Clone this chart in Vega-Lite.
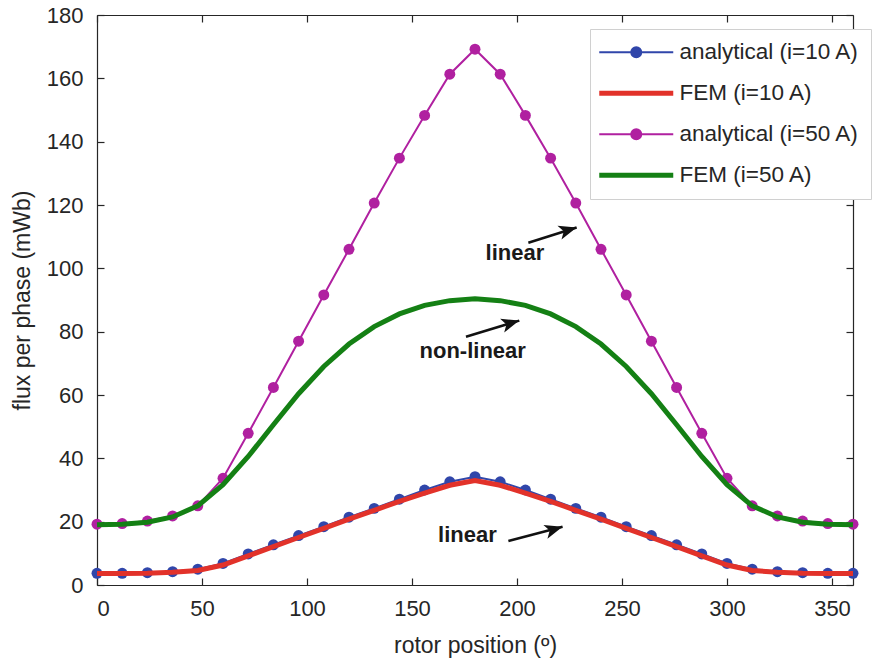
{
  "$schema": "https://vega.github.io/schema/vega-lite/v6.json",
  "width": 756,
  "height": 570,
  "autosize": {"type": "none"},
  "padding": {"left": 97, "top": 15, "right": 24, "bottom": 74},
  "background": "white",
  "config": {
    "view": {"stroke": null},
    "font": "Liberation Sans",
    "axis": {
      "labelFont": "Liberation Sans",
      "labelFontSize": 22,
      "labelColor": "#262626",
      "titleFont": "Liberation Sans",
      "titleFontSize": 23,
      "titleFontWeight": "normal",
      "titleColor": "#262626",
      "domainColor": "#262626",
      "domainWidth": 1.2,
      "tickColor": "#262626",
      "tickWidth": 1.2,
      "grid": false
    }
  },
  "resolve": {"axis": {"x": "independent", "y": "independent"}},
  "datasets": {
    "flux": [
      {"pos": 0, "flux": 3.7, "series": "analytical (i=10 A)"},
      {"pos": 12, "flux": 3.7, "series": "analytical (i=10 A)"},
      {"pos": 24, "flux": 3.9, "series": "analytical (i=10 A)"},
      {"pos": 36, "flux": 4.2, "series": "analytical (i=10 A)"},
      {"pos": 48, "flux": 5.0, "series": "analytical (i=10 A)"},
      {"pos": 60, "flux": 6.8, "series": "analytical (i=10 A)"},
      {"pos": 72, "flux": 9.8, "series": "analytical (i=10 A)"},
      {"pos": 84, "flux": 12.7, "series": "analytical (i=10 A)"},
      {"pos": 96, "flux": 15.6, "series": "analytical (i=10 A)"},
      {"pos": 108, "flux": 18.4, "series": "analytical (i=10 A)"},
      {"pos": 120, "flux": 21.4, "series": "analytical (i=10 A)"},
      {"pos": 132, "flux": 24.2, "series": "analytical (i=10 A)"},
      {"pos": 144, "flux": 27.1, "series": "analytical (i=10 A)"},
      {"pos": 156, "flux": 30.0, "series": "analytical (i=10 A)"},
      {"pos": 168, "flux": 32.6, "series": "analytical (i=10 A)"},
      {"pos": 180, "flux": 34.2, "series": "analytical (i=10 A)"},
      {"pos": 192, "flux": 32.6, "series": "analytical (i=10 A)"},
      {"pos": 204, "flux": 30.0, "series": "analytical (i=10 A)"},
      {"pos": 216, "flux": 27.1, "series": "analytical (i=10 A)"},
      {"pos": 228, "flux": 24.2, "series": "analytical (i=10 A)"},
      {"pos": 240, "flux": 21.4, "series": "analytical (i=10 A)"},
      {"pos": 252, "flux": 18.4, "series": "analytical (i=10 A)"},
      {"pos": 264, "flux": 15.6, "series": "analytical (i=10 A)"},
      {"pos": 276, "flux": 12.7, "series": "analytical (i=10 A)"},
      {"pos": 288, "flux": 9.8, "series": "analytical (i=10 A)"},
      {"pos": 300, "flux": 6.8, "series": "analytical (i=10 A)"},
      {"pos": 312, "flux": 5.0, "series": "analytical (i=10 A)"},
      {"pos": 324, "flux": 4.2, "series": "analytical (i=10 A)"},
      {"pos": 336, "flux": 3.9, "series": "analytical (i=10 A)"},
      {"pos": 348, "flux": 3.7, "series": "analytical (i=10 A)"},
      {"pos": 360, "flux": 3.7, "series": "analytical (i=10 A)"},

      {"pos": 0, "flux": 3.6, "series": "FEM (i=10 A)"},
      {"pos": 12, "flux": 3.6, "series": "FEM (i=10 A)"},
      {"pos": 24, "flux": 3.7, "series": "FEM (i=10 A)"},
      {"pos": 36, "flux": 4.0, "series": "FEM (i=10 A)"},
      {"pos": 48, "flux": 4.6, "series": "FEM (i=10 A)"},
      {"pos": 60, "flux": 6.3, "series": "FEM (i=10 A)"},
      {"pos": 72, "flux": 9.2, "series": "FEM (i=10 A)"},
      {"pos": 84, "flux": 12.1, "series": "FEM (i=10 A)"},
      {"pos": 96, "flux": 15.0, "series": "FEM (i=10 A)"},
      {"pos": 108, "flux": 17.9, "series": "FEM (i=10 A)"},
      {"pos": 120, "flux": 20.8, "series": "FEM (i=10 A)"},
      {"pos": 132, "flux": 23.6, "series": "FEM (i=10 A)"},
      {"pos": 144, "flux": 26.4, "series": "FEM (i=10 A)"},
      {"pos": 156, "flux": 29.0, "series": "FEM (i=10 A)"},
      {"pos": 168, "flux": 31.5, "series": "FEM (i=10 A)"},
      {"pos": 180, "flux": 33.0, "series": "FEM (i=10 A)"},
      {"pos": 192, "flux": 31.5, "series": "FEM (i=10 A)"},
      {"pos": 204, "flux": 29.0, "series": "FEM (i=10 A)"},
      {"pos": 216, "flux": 26.4, "series": "FEM (i=10 A)"},
      {"pos": 228, "flux": 23.6, "series": "FEM (i=10 A)"},
      {"pos": 240, "flux": 20.8, "series": "FEM (i=10 A)"},
      {"pos": 252, "flux": 17.9, "series": "FEM (i=10 A)"},
      {"pos": 264, "flux": 15.0, "series": "FEM (i=10 A)"},
      {"pos": 276, "flux": 12.1, "series": "FEM (i=10 A)"},
      {"pos": 288, "flux": 9.2, "series": "FEM (i=10 A)"},
      {"pos": 300, "flux": 6.3, "series": "FEM (i=10 A)"},
      {"pos": 312, "flux": 4.6, "series": "FEM (i=10 A)"},
      {"pos": 324, "flux": 4.0, "series": "FEM (i=10 A)"},
      {"pos": 336, "flux": 3.7, "series": "FEM (i=10 A)"},
      {"pos": 348, "flux": 3.6, "series": "FEM (i=10 A)"},
      {"pos": 360, "flux": 3.6, "series": "FEM (i=10 A)"},

      {"pos": 0, "flux": 19.2, "series": "analytical (i=50 A)"},
      {"pos": 12, "flux": 19.4, "series": "analytical (i=50 A)"},
      {"pos": 24, "flux": 20.2, "series": "analytical (i=50 A)"},
      {"pos": 36, "flux": 21.8, "series": "analytical (i=50 A)"},
      {"pos": 48, "flux": 25.0, "series": "analytical (i=50 A)"},
      {"pos": 60, "flux": 33.7, "series": "analytical (i=50 A)"},
      {"pos": 72, "flux": 47.9, "series": "analytical (i=50 A)"},
      {"pos": 84, "flux": 62.4, "series": "analytical (i=50 A)"},
      {"pos": 96, "flux": 77.0, "series": "analytical (i=50 A)"},
      {"pos": 108, "flux": 91.6, "series": "analytical (i=50 A)"},
      {"pos": 120, "flux": 106.0, "series": "analytical (i=50 A)"},
      {"pos": 132, "flux": 120.6, "series": "analytical (i=50 A)"},
      {"pos": 144, "flux": 134.8, "series": "analytical (i=50 A)"},
      {"pos": 156, "flux": 148.3, "series": "analytical (i=50 A)"},
      {"pos": 168, "flux": 161.3, "series": "analytical (i=50 A)"},
      {"pos": 180, "flux": 169.2, "series": "analytical (i=50 A)"},
      {"pos": 192, "flux": 161.3, "series": "analytical (i=50 A)"},
      {"pos": 204, "flux": 148.3, "series": "analytical (i=50 A)"},
      {"pos": 216, "flux": 134.8, "series": "analytical (i=50 A)"},
      {"pos": 228, "flux": 120.6, "series": "analytical (i=50 A)"},
      {"pos": 240, "flux": 106.0, "series": "analytical (i=50 A)"},
      {"pos": 252, "flux": 91.6, "series": "analytical (i=50 A)"},
      {"pos": 264, "flux": 77.0, "series": "analytical (i=50 A)"},
      {"pos": 276, "flux": 62.4, "series": "analytical (i=50 A)"},
      {"pos": 288, "flux": 47.9, "series": "analytical (i=50 A)"},
      {"pos": 300, "flux": 33.7, "series": "analytical (i=50 A)"},
      {"pos": 312, "flux": 25.0, "series": "analytical (i=50 A)"},
      {"pos": 324, "flux": 21.8, "series": "analytical (i=50 A)"},
      {"pos": 336, "flux": 20.2, "series": "analytical (i=50 A)"},
      {"pos": 348, "flux": 19.4, "series": "analytical (i=50 A)"},
      {"pos": 360, "flux": 19.2, "series": "analytical (i=50 A)"},

      {"pos": 0, "flux": 19.0, "series": "FEM (i=50 A)"},
      {"pos": 12, "flux": 19.2, "series": "FEM (i=50 A)"},
      {"pos": 24, "flux": 19.8, "series": "FEM (i=50 A)"},
      {"pos": 36, "flux": 21.5, "series": "FEM (i=50 A)"},
      {"pos": 48, "flux": 25.0, "series": "FEM (i=50 A)"},
      {"pos": 60, "flux": 31.7, "series": "FEM (i=50 A)"},
      {"pos": 72, "flux": 40.6, "series": "FEM (i=50 A)"},
      {"pos": 84, "flux": 50.6, "series": "FEM (i=50 A)"},
      {"pos": 96, "flux": 60.4, "series": "FEM (i=50 A)"},
      {"pos": 108, "flux": 69.0, "series": "FEM (i=50 A)"},
      {"pos": 120, "flux": 76.1, "series": "FEM (i=50 A)"},
      {"pos": 132, "flux": 81.6, "series": "FEM (i=50 A)"},
      {"pos": 144, "flux": 85.6, "series": "FEM (i=50 A)"},
      {"pos": 156, "flux": 88.3, "series": "FEM (i=50 A)"},
      {"pos": 168, "flux": 89.8, "series": "FEM (i=50 A)"},
      {"pos": 180, "flux": 90.4, "series": "FEM (i=50 A)"},
      {"pos": 192, "flux": 89.8, "series": "FEM (i=50 A)"},
      {"pos": 204, "flux": 88.3, "series": "FEM (i=50 A)"},
      {"pos": 216, "flux": 85.6, "series": "FEM (i=50 A)"},
      {"pos": 228, "flux": 81.6, "series": "FEM (i=50 A)"},
      {"pos": 240, "flux": 76.1, "series": "FEM (i=50 A)"},
      {"pos": 252, "flux": 69.0, "series": "FEM (i=50 A)"},
      {"pos": 264, "flux": 60.4, "series": "FEM (i=50 A)"},
      {"pos": 276, "flux": 50.6, "series": "FEM (i=50 A)"},
      {"pos": 288, "flux": 40.6, "series": "FEM (i=50 A)"},
      {"pos": 300, "flux": 31.7, "series": "FEM (i=50 A)"},
      {"pos": 312, "flux": 25.0, "series": "FEM (i=50 A)"},
      {"pos": 324, "flux": 21.5, "series": "FEM (i=50 A)"},
      {"pos": 336, "flux": 19.8, "series": "FEM (i=50 A)"},
      {"pos": 348, "flux": 19.2, "series": "FEM (i=50 A)"},
      {"pos": 360, "flux": 19.0, "series": "FEM (i=50 A)"}
    ],
    "arrows": [
      {"pos": 205.4, "flux": 108.1, "pos2": 228.4, "flux2": 112.9},
      {"pos": 175.7, "flux": 78.4, "pos2": 201.1, "flux2": 83.5},
      {"pos": 195.9, "flux": 13.9, "pos2": 221.7, "flux2": 18.4}
    ],
    "notes": [
      {"pos": 199.0, "flux": 102.6, "label": "linear"},
      {"pos": 178.9, "flux": 71.7, "label": "non-linear"},
      {"pos": 176.4, "flux": 13.7, "label": "linear"}
    ]
  },
  "layer": [
    {
      "data": {"name": "flux"},
      "transform": [{"filter": "indexof(datum.series, 'analytical') >= 0"}],
      "mark": {"type": "line", "strokeWidth": 2},
      "encoding": {
        "x": {"field": "pos", "type": "quantitative",
          "scale": {"domain": [0, 360], "nice": false, "zero": false},
          "axis": {"orient": "bottom", "values": [0, 50, 100, 150, 200, 250, 300, 350], "title": "rotor position (º)", "tickSize": -7, "labelPadding": 20, "titlePadding": 15}},
        "y": {"field": "flux", "type": "quantitative",
          "scale": {"domain": [0, 180], "nice": false, "zero": false},
          "axis": {"orient": "left", "values": [0, 20, 40, 60, 80, 100, 120, 140, 160, 180], "title": "flux per phase (mWb)", "tickSize": -7, "labelPadding": 21, "titlePadding": 12}},
        "color": {"field": "series", "type": "nominal",
          "scale": {"domain": ["analytical (i=10 A)", "FEM (i=10 A)", "analytical (i=50 A)", "FEM (i=50 A)"],
                    "range": ["#3046aa", "#e2322a", "#b020a0", "#148014"]},
          "legend": {
            "title": null, "orient": "none", "legendX": 493, "legendY": 14,
            "padding": 12, "strokeColor": "#d0d0d0", "fillColor": "white",
            "labelFont": "Liberation Sans", "labelFontSize": 22.5, "labelColor": "#262626", "labelLimit": 400,
            "symbolSize": 100, "labelOffset": 55, "rowPadding": 18,
            "encode": {
              "symbols": {"update": {
                "shape": {"signal": "(datum.value === 'FEM (i=10 A)' || datum.value === 'FEM (i=50 A)') ? 'M-2.8,0L12,0' : 'M-2.8,0L12,0M5.6,0A1,1,0,1,1,3.6,0A1,1,0,1,1,5.6,0Z'"},
                "strokeWidth": {"signal": "(datum.value === 'FEM (i=10 A)' || datum.value === 'FEM (i=50 A)') ? 5 : 2"},
                "opacity": {"value": 1}
              }}
            }
          }}
      }
    },
    {
      "data": {"name": "flux"},
      "transform": [{"filter": "indexof(datum.series, 'analytical') >= 0"}],
      "mark": {"type": "circle", "size": 120, "opacity": 1},
      "encoding": {
        "x": {"field": "pos", "type": "quantitative", "axis": null},
        "y": {"field": "flux", "type": "quantitative", "axis": null},
        "color": {"field": "series", "type": "nominal"}
      }
    },
    {
      "data": {"name": "flux"},
      "transform": [{"filter": "indexof(datum.series, 'FEM') >= 0"}],
      "mark": {"type": "line", "strokeWidth": 5},
      "encoding": {
        "x": {"field": "pos", "type": "quantitative", "axis": null},
        "y": {"field": "flux", "type": "quantitative", "axis": null},
        "color": {"field": "series", "type": "nominal"}
      }
    },
    {
      "data": {"name": "flux"},
      "transform": [{"filter": "datum.series == 'FEM (i=50 A)'"}],
      "mark": {"type": "line", "opacity": 0},
      "encoding": {
        "x": {"field": "pos", "type": "quantitative",
          "axis": {"orient": "top", "values": [0, 50, 100, 150, 200, 250, 300, 350], "labels": false, "title": null, "tickSize": -7}},
        "y": {"field": "flux", "type": "quantitative",
          "axis": {"orient": "right", "values": [0, 20, 40, 60, 80, 100, 120, 140, 160, 180], "labels": false, "title": null, "tickSize": -7}}
      }
    },
    {
      "data": {"name": "arrows"},
      "mark": {"type": "rule", "strokeWidth": 2.5, "color": "#111111"},
      "encoding": {
        "x": {"field": "pos", "type": "quantitative", "axis": null},
        "y": {"field": "flux", "type": "quantitative", "axis": null},
        "x2": {"field": "pos2"},
        "y2": {"field": "flux2"}
      }
    },
    {
      "data": {"name": "arrows"},
      "mark": {"type": "point", "shape": "M0,0L-2,-0.8L-1.5,0L-2,0.8Z", "size": 320, "filled": true, "opacity": 1, "color": "#111111", "angle": 343.5},
      "encoding": {
        "x": {"field": "pos2", "type": "quantitative", "axis": null},
        "y": {"field": "flux2", "type": "quantitative", "axis": null}
      }
    },
    {
      "data": {"name": "notes"},
      "mark": {"type": "text", "font": "Liberation Sans", "fontSize": 22, "fontWeight": "bold", "color": "#1a1a1a", "align": "center", "baseline": "alphabetic"},
      "encoding": {
        "x": {"field": "pos", "type": "quantitative", "axis": null},
        "y": {"field": "flux", "type": "quantitative", "axis": null},
        "text": {"field": "label"}
      }
    }
  ]
}
